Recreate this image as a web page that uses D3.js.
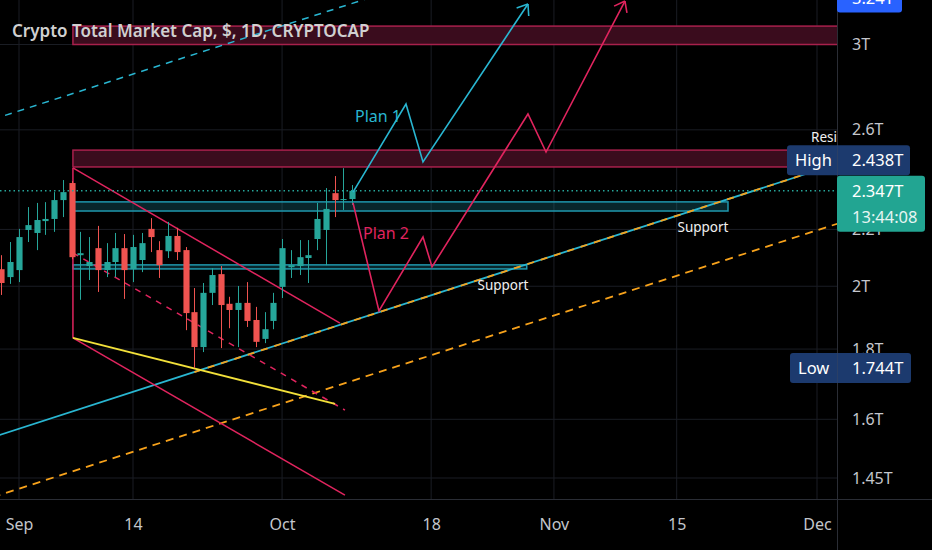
<!DOCTYPE html>
<html>
<head>
<meta charset="utf-8">
<script src="https://cdn.jsdelivr.net/npm/d3@7"></script>
<style>
  body { margin: 0; background: #000; }
  svg { display: block; font-family: "Noto Sans", sans-serif; }
</style>
</head>
<body>
<div id="chart"></div>
<script>
// chart size
const svgWidth = 932,
    svgHeight = 550,
    plotRight = 837,
    plotBottom = 499;

// candles, one per day starting Aug 30 (day -2, day 0 = Sep 1)
const firstDay = -2;
const opens  = [2.058,2.031,2.055,2.198,2.187,2.231,2.239,2.311,2.378,2.107,2.069,2.132,2.055,2.083,2.132,2.058,2.090,2.202,2.125,2.121,2.176,2.125,1.915,1.806,1.978,2.041,1.942,1.922,1.945,1.890,1.831,1.887,1.998,2.065,2.069,2.097,2.165,2.198,2.338,2.311,2.315];
const highs  = [2.107,2.154,2.202,2.284,2.300,2.303,2.342,2.390,2.386,2.191,2.172,2.213,2.150,2.187,2.183,2.180,2.187,2.242,2.157,2.228,2.206,2.136,1.994,2.011,2.062,2.069,1.965,2.001,2.014,1.932,1.915,1.978,2.165,2.125,2.161,2.161,2.300,2.358,2.406,2.438,2.370];
const lows   = [1.971,2.008,2.014,2.154,2.125,2.180,2.191,2.246,2.093,1.955,2.021,1.981,2.031,2.031,1.958,2.014,2.048,2.118,2.028,2.097,2.090,1.858,1.744,1.791,1.938,1.803,1.864,1.806,1.868,1.806,1.818,1.861,1.961,2.028,2.038,2.011,2.125,2.072,2.246,2.273,2.292];
const closes = [2.011,2.083,2.172,2.216,2.235,2.239,2.311,2.342,2.100,2.114,2.083,2.055,2.083,2.132,2.055,2.136,2.150,2.172,2.072,2.176,2.118,1.912,1.806,1.978,2.038,1.938,1.922,1.945,1.887,1.822,1.861,1.945,2.132,2.072,2.100,2.107,2.239,2.277,2.311,2.315,2.347];

// axis ticks
const priceTicks = [1.45, 1.6, 1.8, 2, 2.2, 2.6, 3];
const dateTickDays = [0, 13, 30, 47, 61, 75, 91];
const dateTickLabels = ["Sep", "14", "Oct", "18", "Nov", "15", "Dec"];

// price labels
const lastPrice = 2.347, lastTime = "13:44:08";
const highPrice = 2.438, lowPrice = 1.744, targetPrice = 3.24;

// drawings, as [day, value] points
const resistanceZones = [[3.0, 3.094], [2.443, 2.513]];
const supportZoneTop = [2.269, 2.304], supportZoneTopEnd = 80.85;
const supportZoneLow = [2.059, 2.073], supportZoneLowEnd = 57.9;
const zoneStart = 6.15;
const supportLine = [[-3, 1.5525], [95, 2.476]];
const supportDashed = [[20, 1.732], [95, 2.476]];
const lowerChannel = [[-3, 1.404], [95, 2.239]];
const upperChannel = [[-3, 2.646], [40, 3.245]];
const wedgeVertical = [[6.15, 2.439], [6.15, 1.834]];
const wedgeUpper = [[6.15, 2.439], [36.6, 1.880]];
const wedgeLower = [[6.15, 1.834], [37.17, 1.409]];
const wedgeMid = [[6.15, 2.115], [37.17, 1.625]];
const yellowLine = [[6.15, 1.834], [36.04, 1.642]];
const plan1 = [[38.09, 2.342], [44.13, 2.715], [46.07, 2.464], [58.04, 3.211]];
const plan2 = [[38.09, 2.300], [41.05, 1.919], [46.07, 2.172], [47.10, 2.066], [58.04, 2.670], [60.10, 2.505], [69.1, 3.227]];

// colours
const upColor = "#26a69a", downColor = "#ef5350",
    cyan = "#29b6d1", pink = "#e0245e", orange = "#f7a21b", yellow = "#f2e03a";

// scales
const xScale = d3.scaleLinear().domain([0, 91]).range([19, 817]);
const yScale = d3.scaleLog().domain([1.45, 3]).range([478, 44.5]);

let svg = d3.select("#chart").append("svg")
    .attr("width", svgWidth)
    .attr("height", svgHeight);

svg.append("rect").attr("width", svgWidth).attr("height", svgHeight).attr("fill", "#000");

svg.append("clipPath").attr("id", "plotClip")
    .append("rect").attr("width", plotRight).attr("height", plotBottom);

let plot = svg.append("g").attr("clip-path", "url(#plotClip)");

// grid
plot.selectAll("line.hgrid")
    .data(priceTicks)
    .join("line")
    .attr("class", "hgrid")
    .attr("x1", 0).attr("x2", plotRight)
    .attr("y1", (d) => yScale(d)).attr("y2", (d) => yScale(d))
    .attr("stroke", "#1a1d24");
plot.selectAll("line.vgrid")
    .data(dateTickDays)
    .join("line")
    .attr("class", "vgrid")
    .attr("y1", 0).attr("y2", plotBottom)
    .attr("x1", (d) => xScale(d)).attr("x2", (d) => xScale(d))
    .attr("stroke", "#1a1d24");

// zones
plot.selectAll("rect.resist")
    .data(resistanceZones)
    .join("rect")
    .attr("class", "resist")
    .attr("x", xScale(zoneStart))
    .attr("width", plotRight - xScale(zoneStart) + 10)
    .attr("y", (d) => yScale(d[1]))
    .attr("height", (d) => yScale(d[0]) - yScale(d[1]))
    .attr("fill", "#3a0c1d")
    .attr("stroke", "#a8204c")
    .attr("stroke-width", 1.5);

[[supportZoneTop, supportZoneTopEnd], [supportZoneLow, supportZoneLowEnd]].forEach(([z, end]) => {
    plot.append("rect")
        .attr("x", xScale(zoneStart))
        .attr("width", xScale(end) - xScale(zoneStart))
        .attr("y", yScale(z[1]))
        .attr("height", yScale(z[0]) - yScale(z[1]))
        .attr("fill", "rgba(31,150,170,0.25)")
        .attr("stroke", "#1f97ad")
        .attr("stroke-width", 1.5);
});

const line = d3.line().x((d) => xScale(d[0])).y((d) => yScale(d[1]));

function drawLine(pts, color, dash, width) {
    return plot.append("path")
        .attr("d", line(pts))
        .attr("fill", "none")
        .attr("stroke", color)
        .attr("stroke-width", width || 1.5)
        .attr("stroke-dasharray", dash || null);
}

// channel + wedge
drawLine(upperChannel, cyan, "7,6");
drawLine(lowerChannel, orange, "8,6", 1.8);
drawLine(supportLine, cyan, null, 1.8);
drawLine(supportDashed, orange, "7,7", 1.8);
drawLine(wedgeVertical, pink);
drawLine(wedgeUpper, pink);
drawLine(wedgeLower, pink);
drawLine(wedgeMid, pink, "6,6");
drawLine(yellowLine, yellow, null, 1.8);

// candles
let candles = opens.map((o, i) => ({ day: firstDay + i, o: o, h: highs[i], l: lows[i], c: closes[i] }));
let bodyW = (xScale(1) - xScale(0)) * 0.7;

let candleG = plot.selectAll("g.candle")
    .data(candles)
    .join("g")
    .attr("class", "candle");
candleG.append("line")
    .attr("x1", (d) => Math.round(xScale(d.day)) + 0.5)
    .attr("x2", (d) => Math.round(xScale(d.day)) + 0.5)
    .attr("y1", (d) => yScale(d.h))
    .attr("y2", (d) => yScale(d.l))
    .attr("stroke", (d) => d.c >= d.o ? upColor : downColor);
candleG.append("rect")
    .attr("x", (d) => Math.round(xScale(d.day)) + 0.5 - bodyW / 2)
    .attr("width", bodyW)
    .attr("y", (d) => yScale(Math.max(d.o, d.c)))
    .attr("height", (d) => Math.max(1, Math.abs(yScale(d.o) - yScale(d.c))))
    .attr("fill", (d) => d.c >= d.o ? upColor : downColor);

// last price line
plot.append("line")
    .attr("x1", 0).attr("x2", plotRight)
    .attr("y1", yScale(lastPrice)).attr("y2", yScale(lastPrice))
    .attr("stroke", upColor)
    .attr("stroke-dasharray", "1.5,3")
    .attr("stroke-width", 1.5);

// plan arrows
function drawArrow(pts, color) {
    drawLine(pts, color, null, 1.6);
    let n = pts.length,
        tx = xScale(pts[n - 1][0]), ty = yScale(pts[n - 1][1]),
        px = xScale(pts[n - 2][0]), py = yScale(pts[n - 2][1]),
        ang = Math.atan2(py - ty, px - tx), len = 12;
    [-0.65, 0.65].forEach((a) => {
        plot.append("line")
            .attr("x1", tx).attr("y1", ty)
            .attr("x2", tx + len * Math.cos(ang + a))
            .attr("y2", ty + len * Math.sin(ang + a))
            .attr("stroke", color)
            .attr("stroke-width", 1.6);
    });
}
drawArrow(plan1, cyan);
drawArrow(plan2, pink);

// texts on chart
plot.append("text").attr("x", 355).attr("y", 122).attr("fill", cyan)
    .attr("font-size", 16).text("Plan 1");
plot.append("text").attr("x", 363).attr("y", 239).attr("fill", pink)
    .attr("font-size", 16).text("Plan 2");
plot.append("text").attr("x", 503).attr("y", 290).attr("fill", "#f0f0f0")
    .attr("font-size", 13.5).attr("text-anchor", "middle").text("Support");
plot.append("text").attr("x", 703).attr("y", 232).attr("fill", "#f0f0f0")
    .attr("font-size", 13.5).attr("text-anchor", "middle").text("Support");
plot.append("text").attr("x", 811).attr("y", 142).attr("fill", "#f0f0f0")
    .attr("font-size", 13.5).text("Resistance");

// title
svg.append("text").attr("x", 12).attr("y", 37)
    .attr("fill", "#d0d0d0").attr("font-size", 17).attr("font-weight", 600)
    .text("Crypto Total Market Cap, $, 1D, CRYPTOCAP");

// axes separators
svg.append("line").attr("x1", plotRight + 0.5).attr("x2", plotRight + 0.5)
    .attr("y1", 0).attr("y2", svgHeight).attr("stroke", "#2a2d35");
svg.append("line").attr("x1", 0).attr("x2", svgWidth)
    .attr("y1", plotBottom + 0.5).attr("y2", plotBottom + 0.5).attr("stroke", "#2a2d35");

// price axis
let yAxis = svg.append("g")
    .attr("transform", `translate(${plotRight}, 0)`)
    .call(d3.axisRight(yScale).tickValues(priceTicks).tickFormat((d) => d + "T").tickSize(0).tickPadding(15));
yAxis.select(".domain").remove();
yAxis.selectAll("text").attr("fill", "#c4c6cc").attr("font-size", 16).attr("font-family", "Noto Sans");

// time axis
let xAxis = svg.append("g")
    .attr("transform", `translate(0, ${plotBottom})`)
    .call(d3.axisBottom(xScale).tickValues(dateTickDays).tickFormat((d, i) => dateTickLabels[i]).tickSize(0).tickPadding(20));
xAxis.select(".domain").remove();
xAxis.selectAll("text").attr("fill", "#c4c6cc").attr("font-size", 16).attr("font-family", "Noto Sans");

// price label boxes
function priceBox(x, yc, w, h, fill, texts) {
    svg.append("rect").attr("x", x).attr("y", yc - h / 2).attr("width", w).attr("height", h)
        .attr("rx", 3).attr("fill", fill);
    texts.forEach((t) => {
        svg.append("text").attr("x", t[0]).attr("y", yc + t[2]).attr("fill", "#fff")
            .attr("font-size", 16.5).text(t[1]);
    });
}
priceBox(837, yScale(targetPrice) - 1, 65, 30, "#2962ff", [[852, targetPrice + "T", 6]]);
priceBox(787, yScale(highPrice) - 8, 123, 30, "#1c3a6e", [[795, "High", 6], [852, highPrice + "T", 6]]);
svg.append("line").attr("x1", plotRight + 0.5).attr("x2", plotRight + 0.5)
    .attr("y1", yScale(highPrice) - 23).attr("y2", yScale(highPrice) + 7).attr("stroke", "#2a3f66");
priceBox(790, yScale(lowPrice), 121, 30, "#1c3a6e", [[798, "Low", 6], [852, lowPrice + "T", 6]]);
svg.append("line").attr("x1", plotRight + 0.5).attr("x2", plotRight + 0.5)
    .attr("y1", yScale(lowPrice) - 15).attr("y2", yScale(lowPrice) + 15).attr("stroke", "#2a3f66");
svg.append("rect").attr("x", 837).attr("y", yScale(lastPrice) - 15).attr("width", 88).attr("height", 56)
    .attr("rx", 3).attr("fill", "#22a592");
svg.append("text").attr("x", 852).attr("y", yScale(lastPrice) + 6).attr("fill", "#fff")
    .attr("font-size", 16.5).text(lastPrice + "T");
svg.append("text").attr("x", 852).attr("y", yScale(lastPrice) + 32).attr("fill", "#e6f5f2")
    .attr("font-size", 16.5).text(lastTime);
</script>
</body>
</html>
